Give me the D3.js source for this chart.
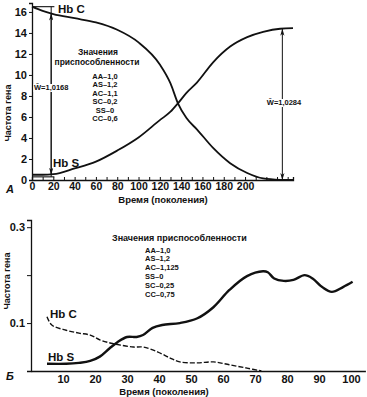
<!DOCTYPE html>
<html>
<head>
<meta charset="utf-8">
<script src="https://cdn.jsdelivr.net/npm/d3@7/dist/d3.min.js"></script>
<style>
  html, body { margin: 0; padding: 0; background: #fff; }
  svg { display: block; }
  text { font-family: "Liberation Sans", Arial, sans-serif; fill: #111; }
</style>
</head>
<body>
<svg id="chart" width="367" height="397"></svg>
<script>
// ---------- Panel A data ----------
const timeA = [0, 10, 20, 40, 60, 80, 100, 120, 130, 137, 145, 155, 170, 186, 202, 217, 233, 245];
const hbcA  = [16.5, 16.1, 15.8, 15.4, 15.0, 14.3, 13.1, 11.0, 9.2, 7.3, 5.9, 4.8, 3.05, 1.6, 0.67, 0.15, 0.02, 0.0];
const hbsA  = [0.5, 0.5, 0.55, 1.1, 1.75, 2.8, 4.05, 5.7, 6.5, 7.3, 8.3, 9.3, 11.2, 12.7, 13.6, 14.1, 14.4, 14.45];
const xTicksA = [0, 20, 40, 60, 80, 100, 120, 140, 160, 180, 200];
const yTicksA = [0, 2, 4, 6, 8, 10, 12, 14, 16];
const fitnessA = ["AA–1,0", "AS–1,2", "AC–1,1", "SC–0,2", "SS–0", "CC–0,6"];
const wLeftA = "W\u0304=1,0168";
const wRightA = "W\u0304=1,0284";

// ---------- Panel B data ----------
const timeBS = [5, 11, 15, 18.5, 21.5, 24.5, 27, 30, 33, 35, 38, 41, 46.5, 52, 57, 62, 67.5, 72.5, 74, 76, 79, 82, 85.5, 88, 91, 94, 97.5, 100.5];
const hbsB   = [0.015, 0.015, 0.017, 0.021, 0.03, 0.047, 0.06, 0.071, 0.071, 0.075, 0.09, 0.096, 0.1, 0.11, 0.133, 0.169, 0.198, 0.208, 0.206, 0.193, 0.188, 0.19, 0.2, 0.193, 0.175, 0.165, 0.175, 0.186];
const timeBC = [5, 6.5, 11, 15, 18.5, 21.5, 25, 28, 32, 35, 39.5, 43.5, 46.5, 52, 57, 62, 67.5, 72];
const hbcB   = [0.113, 0.096, 0.085, 0.079, 0.075, 0.065, 0.058, 0.054, 0.05, 0.05, 0.04, 0.027, 0.019, 0.017, 0.019, 0.013, 0.006, 0.0];
const xTicksB = [10, 20, 30, 40, 50, 60, 70, 80, 90, 100];
const yTicksB = [0.1, 0.2, 0.3];
const yLabelsB = {0.1: "0.1", 0.3: "0.3"};
const fitnessB = ["AA–1,0", "AS–1,2", "AC–1,125", "SS–0", "SC–0,25", "CC–0,75"];

const svg = d3.select("#chart");
svg.append("rect").attr("width", 367).attr("height", 397).attr("fill", "#fff");

const defs = svg.append("defs");
defs.append("marker").attr("id", "arr")
  .attr("viewBox", "0 0 10 6").attr("refX", 10).attr("refY", 3)
  .attr("markerWidth", 7).attr("markerHeight", 4.5).attr("markerUnits", "userSpaceOnUse")
  .attr("orient", "auto-start-reverse")
  .append("path").attr("d", "M0,0 L10,3 L0,6 L3,3 Z").attr("fill", "#111");

// ================= Panel A =================
const xA = d3.scaleLinear().domain([0, 245]).range([32, 293]);
const yA = d3.scaleLinear().domain([0, 16.85]).range([180, 3]);
const gA = svg.append("g");

const yAxA = d3.axisLeft(yA).tickValues(yTicksA).tickSize(3).tickPadding(2).tickFormat(d3.format("d"));
const gyA = gA.append("g").attr("transform", `translate(${xA(0)},0)`).call(yAxA);
gyA.selectAll("text").attr("font-size", 11).attr("font-weight", "bold");

const xMinorA = d3.range(10, 250, 10);
const gxA = gA.append("g").attr("transform", `translate(0,${yA(0)})`)
  .call(d3.axisBottom(xA).tickValues(xMinorA).tickSize(-3).tickFormat(""));
const gxA2 = gA.append("g").attr("transform", `translate(0,${yA(0)})`)
  .call(d3.axisBottom(xA).tickValues(xTicksA).tickSize(0).tickPadding(2.5).tickFormat(d3.format("d")));
gxA2.select(".domain").remove();
gxA2.selectAll("text").attr("font-size", 10.5).attr("font-weight", "bold");
[gyA, gxA].forEach(g => { g.select(".domain").attr("stroke", "#111").attr("stroke-width", 1.3); g.selectAll(".tick line").attr("stroke", "#111").attr("stroke-width", 1); });

const lineA = (vals) => d3.line().x((d, i) => xA(timeA[i])).y(d => yA(d)).curve(d3.curveMonotoneX)(vals);
gA.append("path").attr("d", lineA(hbcA)).attr("fill", "none").attr("stroke", "#111").attr("stroke-width", 1.8);
gA.append("path").attr("d", lineA(hbsA)).attr("fill", "none").attr("stroke", "#111").attr("stroke-width", 1.8);

gA.append("line").attr("x1", xA(0)).attr("x2", xA(21)).attr("y1", yA(16.5)).attr("y2", yA(16.5)).attr("stroke", "#111").attr("stroke-width", 1.1);
gA.append("line").attr("x1", xA(0)).attr("x2", xA(21)).attr("y1", yA(0.3)).attr("y2", yA(0.3)).attr("stroke", "#111").attr("stroke-width", 1.1);
gA.append("line").attr("x1", xA(18)).attr("x2", xA(18)).attr("y1", yA(16.5)).attr("y2", yA(0.3)).attr("stroke", "#111").attr("stroke-width", 1);
gA.append("line").attr("x1", xA(18)).attr("x2", xA(18)).attr("y1", yA(15.85)).attr("y2", yA(0.5))
  .attr("stroke", "#111").attr("stroke-width", 1).attr("marker-start", "url(#arr)").attr("marker-end", "url(#arr)");
gA.append("line").attr("x1", xA(235)).attr("x2", xA(235)).attr("y1", yA(14.4)).attr("y2", yA(0))
  .attr("stroke", "#111").attr("stroke-width", 1).attr("marker-start", "url(#arr)").attr("marker-end", "url(#arr)");

function labelBg(g, x, y, txt, size, anchor) {
  const t = g.append("text").attr("x", x).attr("y", y).attr("font-size", size).attr("font-weight", "bold")
    .attr("text-anchor", anchor || "start").text(txt);
  const bb = t.node().getBBox();
  g.insert("rect", () => t.node()).attr("x", bb.x - 0.5).attr("y", bb.y + 1).attr("width", bb.width + 1).attr("height", bb.height - 1).attr("fill", "#fff");
  return t;
}
labelBg(gA, 34, 90, wLeftA, 7.5);
labelBg(gA, 284, 105, wRightA, 7.5, "middle");

gA.append("text").attr("x", 58).attr("y", 13).attr("font-size", 11.5).attr("font-weight", "bold").text("Hb C");
gA.append("text").attr("x", 53).attr("y", 167).attr("font-size", 11.5).attr("font-weight", "bold").text("Hb S");
gA.append("text").attr("x", 98).attr("y", 54.5).attr("font-size", 8.5).attr("font-weight", "bold").attr("text-anchor", "middle").text("Значения");
gA.append("text").attr("x", 97).attr("y", 64.5).attr("font-size", 8.5).attr("font-weight", "bold").attr("text-anchor", "middle").text("приспособленности");
gA.selectAll("text.fitA").data(fitnessA).enter().append("text")
  .attr("x", 105).attr("y", (d, i) => 78.5 + i * 8.5).attr("font-size", 7.5).attr("font-weight", "bold")
  .attr("text-anchor", "middle").text(d => d);
gA.append("text").attr("transform", "translate(11,113) rotate(-90)").attr("font-size", 9).attr("font-weight", "bold").attr("text-anchor", "middle").text("Частота гена");
gA.append("text").attr("x", 163).attr("y", 203).attr("font-size", 9.5).attr("font-weight", "bold").attr("text-anchor", "middle").text("Время (поколения)");
gA.append("text").attr("x", 6).attr("y", 193).attr("font-size", 11).attr("font-style", "italic").attr("font-weight", "bold").text("A");

// ================= Panel B =================
const xB = d3.scaleLinear().domain([0, 104.5]).range([31, 365.4]);
const yB = d3.scaleLinear().domain([0, 0.315]).range([371, 220]);
const gB = svg.append("g");

const gyB = gB.append("g").attr("transform", `translate(${xB(0)},0)`)
  .call(d3.axisLeft(yB).tickValues(yTicksB).tickSize(4).tickPadding(2).tickFormat(d => yLabelsB[d] || ""));
gyB.selectAll("text").attr("font-size", 11).attr("font-weight", "bold");
const gxB = gB.append("g").attr("transform", `translate(0,${yB(0)})`)
  .call(d3.axisBottom(xB).tickValues(xTicksB).tickSize(0).tickPadding(4).tickFormat(d3.format("d")));
gxB.selectAll("text").attr("font-size", 11).attr("font-weight", "bold");
[gyB, gxB].forEach(g => { g.select(".domain").attr("stroke", "#111").attr("stroke-width", 1.3); g.selectAll(".tick line").attr("stroke", "#111"); });

const lineBS = d3.line().x((d, i) => xB(timeBS[i])).y(d => yB(d)).curve(d3.curveCatmullRom);
const lineBC = d3.line().x((d, i) => xB(timeBC[i])).y(d => yB(d)).curve(d3.curveCatmullRom);
gB.append("path").attr("d", lineBC(hbcB)).attr("fill", "none").attr("stroke", "#111").attr("stroke-width", 1.4).attr("stroke-dasharray", "5,2");
gB.append("path").attr("d", lineBS(hbsB)).attr("fill", "none").attr("stroke", "#111").attr("stroke-width", 2.4);

gB.append("text").attr("x", 50).attr("y", 318).attr("font-size", 11.5).attr("font-weight", "bold").text("Hb C");
gB.append("text").attr("x", 48).attr("y", 361).attr("font-size", 11.5).attr("font-weight", "bold").text("Hb S");
gB.append("text").attr("x", 112).attr("y", 241).attr("font-size", 9).attr("font-weight", "bold").text("Значения приспособленности");
gB.selectAll("text.fitB").data(fitnessB).enter().append("text")
  .attr("x", 145).attr("y", (d, i) => 252.5 + i * 8.8).attr("font-size", 7.5).attr("font-weight", "bold").text(d => d);
gB.append("text").attr("transform", "translate(10,281) rotate(-90)").attr("font-size", 9).attr("font-weight", "bold").attr("text-anchor", "middle").text("Частота гена");
gB.append("text").attr("x", 164).attr("y", 395).attr("font-size", 9.5).attr("font-weight", "bold").attr("text-anchor", "middle").text("Время (поколения)");
gB.append("text").attr("x", 6).attr("y", 380).attr("font-size", 11).attr("font-style", "italic").attr("font-weight", "bold").text("Б");
</script>
</body>
</html>
